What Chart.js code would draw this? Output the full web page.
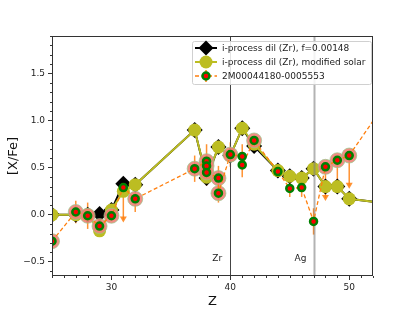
<!DOCTYPE html>
<html>
<head>
<meta charset="utf-8">
<script src="https://cdn.jsdelivr.net/npm/chart.js@4.4.1/dist/chart.umd.min.js"></script>
<style>
html, body { margin: 0; padding: 0; background: #fff; }
#wrap { width: 415px; height: 311px; }
</style>
</head>
<body>
<div id="wrap"><canvas id="chart" width="415" height="311"></canvas></div>
<script>
// model curves
const modelZ    = [25, 27, 28, 29, 30, 31, 32, 37, 38, 39, 40, 41, 42, 44, 45, 46, 47, 48, 49, 50, 56];
const fitVals   = [0.0, 0.0, 0.0, 0.01, 0.05, 0.33, 0.32, 0.90, 0.39, 0.72, 0.63, 0.92, 0.73, 0.47, 0.41, 0.39, 0.49, 0.30, 0.30, 0.17, 0.08];
const solarVals = [0.0, 0.0, 0.0, -0.17, 0.05, 0.25, 0.32, 0.90, 0.40, 0.72, 0.63, 0.92, 0.75, 0.47, 0.41, 0.39, 0.49, 0.30, 0.30, 0.17, 0.08];

// observed star
const obsZ     = [25, 27, 28, 29, 30, 31, 32, 37, 38, 38, 38, 39, 39, 40, 41, 41, 42, 44, 45, 46, 47, 48, 49, 50, 56];
const obsVal   = [-0.28, 0.03, -0.01, -0.12, -0.01, 0.29, 0.17, 0.49, 0.57, 0.52, 0.45, 0.39, 0.23, 0.64, 0.62, 0.53, 0.79, 0.46, 0.28, 0.29, -0.07, 0.51, 0.58, 0.63, 1.73];
const obsErr   = [0.05, 0.12, 0.14, 0.05, 0.05, 0.34, 0.14, 0.14, 0.18, 0.12, 0.14, 0.13, 0.10, 0.13, 0.13, 0.13, 0.05, 0.07, 0.09, 0.10, 0.14, 0.33, 0.31, 0.32, 0.10];
const obsUpper = [0, 0, 0, 0, 0, 1, 0, 0, 0, 0, 0, 0, 0, 0, 0, 0, 0, 0, 0, 0, 0, 1, 1, 1, 0];
const obsHalo  = [1, 1, 1, 1, 1, 0, 1, 1, 1, 1, 1, 1, 1, 1, 0, 0, 1, 0, 0, 0, 0, 1, 1, 1, 1];

// axes and marked elements
const xTicks = [30, 40, 50];
const yTicks = [-0.5, 0.0, 0.5, 1.0, 1.5];
const markZ = [40, 47];
const markLabels = ['Zr', 'Ag'];

const legendLabels = [
    'i-process dil (Zr), f=0.00148',
    'i-process dil (Zr), modified solar',
    '2M00044180-0005553'
];

const OLIVE = '#bcbd22';
const ORANGE = '#ff7f0e';
const FONT = 'DejaVu Sans';

const pts = (xs, ys) => xs.map((x, i) => ({ x: x, y: ys[i] }));

function drawDot(ctx, x, y) {
    ctx.beginPath();
    ctx.arc(x, y, 3.5, 0, Math.PI * 2);
    ctx.fillStyle = '#ff0000';
    ctx.fill();
    ctx.lineWidth = 2.5;
    ctx.strokeStyle = '#008000';
    ctx.stroke();
}

// error bars and upper-limit arrows, under the model curves
const errorBars = {
    id: 'errorBars',
    beforeDatasetsDraw(chart) {
        const { ctx, chartArea: a, scales: { x, y } } = chart;
        ctx.save();
        ctx.beginPath();
        ctx.rect(a.left, a.top, a.right - a.left, a.bottom - a.top);
        ctx.clip();
        ctx.strokeStyle = 'rgba(255,127,14,0.85)';
        ctx.fillStyle = 'rgba(255,127,14,0.85)';
        ctx.lineWidth = 1.5;
        obsZ.forEach((z, i) => {
            const px = x.getPixelForValue(z);
            let top, bot;
            if (obsUpper[i]) {
                top = y.getPixelForValue(obsVal[i]);
                bot = y.getPixelForValue(obsVal[i] - obsErr[i]);
            } else {
                top = y.getPixelForValue(obsVal[i] + obsErr[i]);
                bot = y.getPixelForValue(obsVal[i] - obsErr[i]);
            }
            ctx.beginPath();
            ctx.moveTo(px, top);
            ctx.lineTo(px, bot);
            ctx.stroke();
            if (obsUpper[i]) {
                ctx.beginPath();
                ctx.moveTo(px - 3.5, bot - 3);
                ctx.lineTo(px + 3.5, bot - 3);
                ctx.lineTo(px, bot + 3);
                ctx.closePath();
                ctx.fill();
            }
        });
        ctx.restore();
    }
};

// vertical element markers, drawn after the model curves
const elementLines = {
    id: 'elementLines',
    afterDatasetDraw(chart, args) {
        if (args.index !== 1) return;
        const { ctx, chartArea: a, scales: { x, y } } = chart;
        ctx.save();
        markZ.forEach((z, i) => {
            const px = Math.round(x.getPixelForValue(z)) + 0.5;
            ctx.beginPath();
            ctx.moveTo(px, a.top);
            ctx.lineTo(px, a.bottom);
            if (i === 0) {
                ctx.strokeStyle = '#444';
                ctx.lineWidth = 1;
            } else {
                ctx.strokeStyle = 'rgba(128,128,128,0.6)';
                ctx.lineWidth = 2;
            }
            ctx.stroke();
            ctx.fillStyle = '#222';
            ctx.font = '9px "' + FONT + '"';
            ctx.textAlign = 'center';
            ctx.textBaseline = 'middle';
            ctx.fillText(markLabels[i], x.getPixelForValue(z - 1.1), y.getPixelForValue(-0.47));
        });
        ctx.restore();
    }
};

// frame, minor ticks and the legend box
const decorations = {
    id: 'decorations',
    afterDraw(chart) {
        const { ctx, chartArea: a, scales: { x, y } } = chart;
        ctx.save();
        ctx.strokeStyle = '#333';
        ctx.lineWidth = 1;
        ctx.strokeRect(a.left + 0.5, a.top + 0.5, a.right - a.left - 1, a.bottom - a.top - 1);

        ctx.beginPath();
        for (let z = 25; z <= 52; z++) {
            if (xTicks.includes(z)) continue;
            const px = Math.round(x.getPixelForValue(z)) + 0.5;
            ctx.moveTo(px, a.bottom);
            ctx.lineTo(px, a.bottom + 2);
        }
        for (let k = -6; k <= 19; k++) {
            if (k % 5 === 0) continue;
            const py = Math.round(y.getPixelForValue(k / 10)) + 0.5;
            ctx.moveTo(a.left, py);
            ctx.lineTo(a.left - 2, py);
        }
        ctx.stroke();

        // legend
        const bx = 192, by = 41, bw = 179, bh = 43;
        ctx.fillStyle = 'rgba(255,255,255,0.85)';
        ctx.strokeStyle = '#d0d0d0';
        ctx.beginPath();
        ctx.roundRect(bx + 0.5, by + 0.5, bw, bh, 2);
        ctx.fill();
        ctx.stroke();

        const hx0 = bx + 3, hx1 = bx + 25, hc = bx + 14;
        const rows = [by + 7, by + 21, by + 35];

        // row 1: black diamond
        ctx.strokeStyle = '#000';
        ctx.lineWidth = 2;
        ctx.beginPath();
        ctx.moveTo(hx0, rows[0]); ctx.lineTo(hx1, rows[0]);
        ctx.stroke();
        ctx.fillStyle = '#000';
        ctx.beginPath();
        ctx.moveTo(hc, rows[0] - 7.5); ctx.lineTo(hc + 7.5, rows[0]);
        ctx.lineTo(hc, rows[0] + 7.5); ctx.lineTo(hc - 7.5, rows[0]);
        ctx.closePath();
        ctx.fill();

        // row 2: olive circle
        ctx.strokeStyle = OLIVE;
        ctx.beginPath();
        ctx.moveTo(hx0, rows[1]); ctx.lineTo(hx1, rows[1]);
        ctx.stroke();
        ctx.fillStyle = OLIVE;
        ctx.beginPath();
        ctx.arc(hc, rows[1], 6.5, 0, Math.PI * 2);
        ctx.fill();

        // row 3: dashed observation with error bar
        ctx.strokeStyle = ORANGE;
        ctx.lineWidth = 1.3;
        ctx.setLineDash([4, 2.5]);
        ctx.beginPath();
        ctx.moveTo(hx0, rows[2]); ctx.lineTo(hx1, rows[2]);
        ctx.stroke();
        ctx.setLineDash([]);
        ctx.lineWidth = 1.5;
        ctx.beginPath();
        ctx.moveTo(hc, rows[2] - 6); ctx.lineTo(hc, rows[2] + 6);
        ctx.stroke();
        drawDot(ctx, hc, rows[2]);

        ctx.fillStyle = '#222';
        ctx.font = '9px "' + FONT + '"';
        ctx.textAlign = 'left';
        ctx.textBaseline = 'middle';
        legendLabels.forEach((t, i) => ctx.fillText(t, bx + 30, rows[i] + 0.5));
        ctx.restore();
    }
};

const haloPts = pts(obsZ, obsVal).filter((p, i) => obsHalo[i]);

new Chart(document.getElementById('chart'), {
    type: 'scatter',
    data: {
        datasets: [
            {
                label: legendLabels[0],
                data: pts(modelZ, fitVals),
                showLine: true,
                borderColor: '#000',
                backgroundColor: '#000',
                borderWidth: 2,
                pointStyle: 'rectRot',
                pointRadius: 8,
                pointBorderWidth: 0,
                order: 4
            },
            {
                label: legendLabels[1],
                data: pts(modelZ, solarVals),
                showLine: true,
                borderColor: OLIVE,
                backgroundColor: OLIVE,
                borderWidth: 2,
                pointRadius: 6.5,
                pointBorderWidth: 0,
                order: 3
            },
            {
                label: 'halo',
                data: haloPts,
                showLine: false,
                pointBackgroundColor: 'rgba(242,128,118,0.9)',
                pointBorderColor: 'rgba(150,200,140,0.7)',
                pointRadius: 7.5,
                pointBorderWidth: 1,
                order: 2
            },
            {
                label: legendLabels[2],
                data: pts(obsZ, obsVal),
                showLine: true,
                borderColor: ORANGE,
                borderWidth: 1.3,
                borderDash: [4, 2.5],
                pointBackgroundColor: '#ff0000',
                pointBorderColor: '#008000',
                pointBorderWidth: 2.5,
                pointRadius: 3.5,
                order: 1
            }
        ]
    },
    options: {
        responsive: false,
        animation: false,
        layout: { padding: { top: 36, right: 42, left: 0, bottom: 0 } },
        plugins: {
            legend: { display: false },
            tooltip: { enabled: false }
        },
        scales: {
            x: {
                type: 'linear',
                min: 25,
                max: 52,
                afterBuildTicks: s => { s.ticks = xTicks.map(v => ({ value: v })); },
                afterFit: s => { s.height = 35; },
                grid: { drawOnChartArea: false, tickLength: 4, tickColor: '#333' },
                border: { display: false },
                ticks: {
                    font: { family: FONT, size: 9 },
                    color: '#222',
                    padding: 2,
                    maxRotation: 0,
                    callback: v => String(v)
                },
                title: {
                    display: true,
                    text: 'Z',
                    font: { family: FONT, size: 13 },
                    color: '#111',
                    padding: { top: 0, bottom: 1.5 }
                }
            },
            y: {
                min: -0.65,
                max: 1.9,
                afterBuildTicks: s => { s.ticks = yTicks.map(v => ({ value: v })); },
                afterFit: s => { s.width = 52; },
                grid: { drawOnChartArea: false, tickLength: 4, tickColor: '#333' },
                border: { display: false },
                ticks: {
                    font: { family: FONT, size: 9 },
                    color: '#222',
                    padding: 3,
                    callback: v => (v < 0 ? '\u2212' : '') + Math.abs(v).toFixed(1)
                },
                title: {
                    display: true,
                    text: '[X/Fe]',
                    font: { family: FONT, size: 13 },
                    color: '#111',
                    padding: { top: 5.5, bottom: 0 }
                }
            }
        }
    },
    plugins: [errorBars, elementLines, decorations]
});
</script>
</body>
</html>
